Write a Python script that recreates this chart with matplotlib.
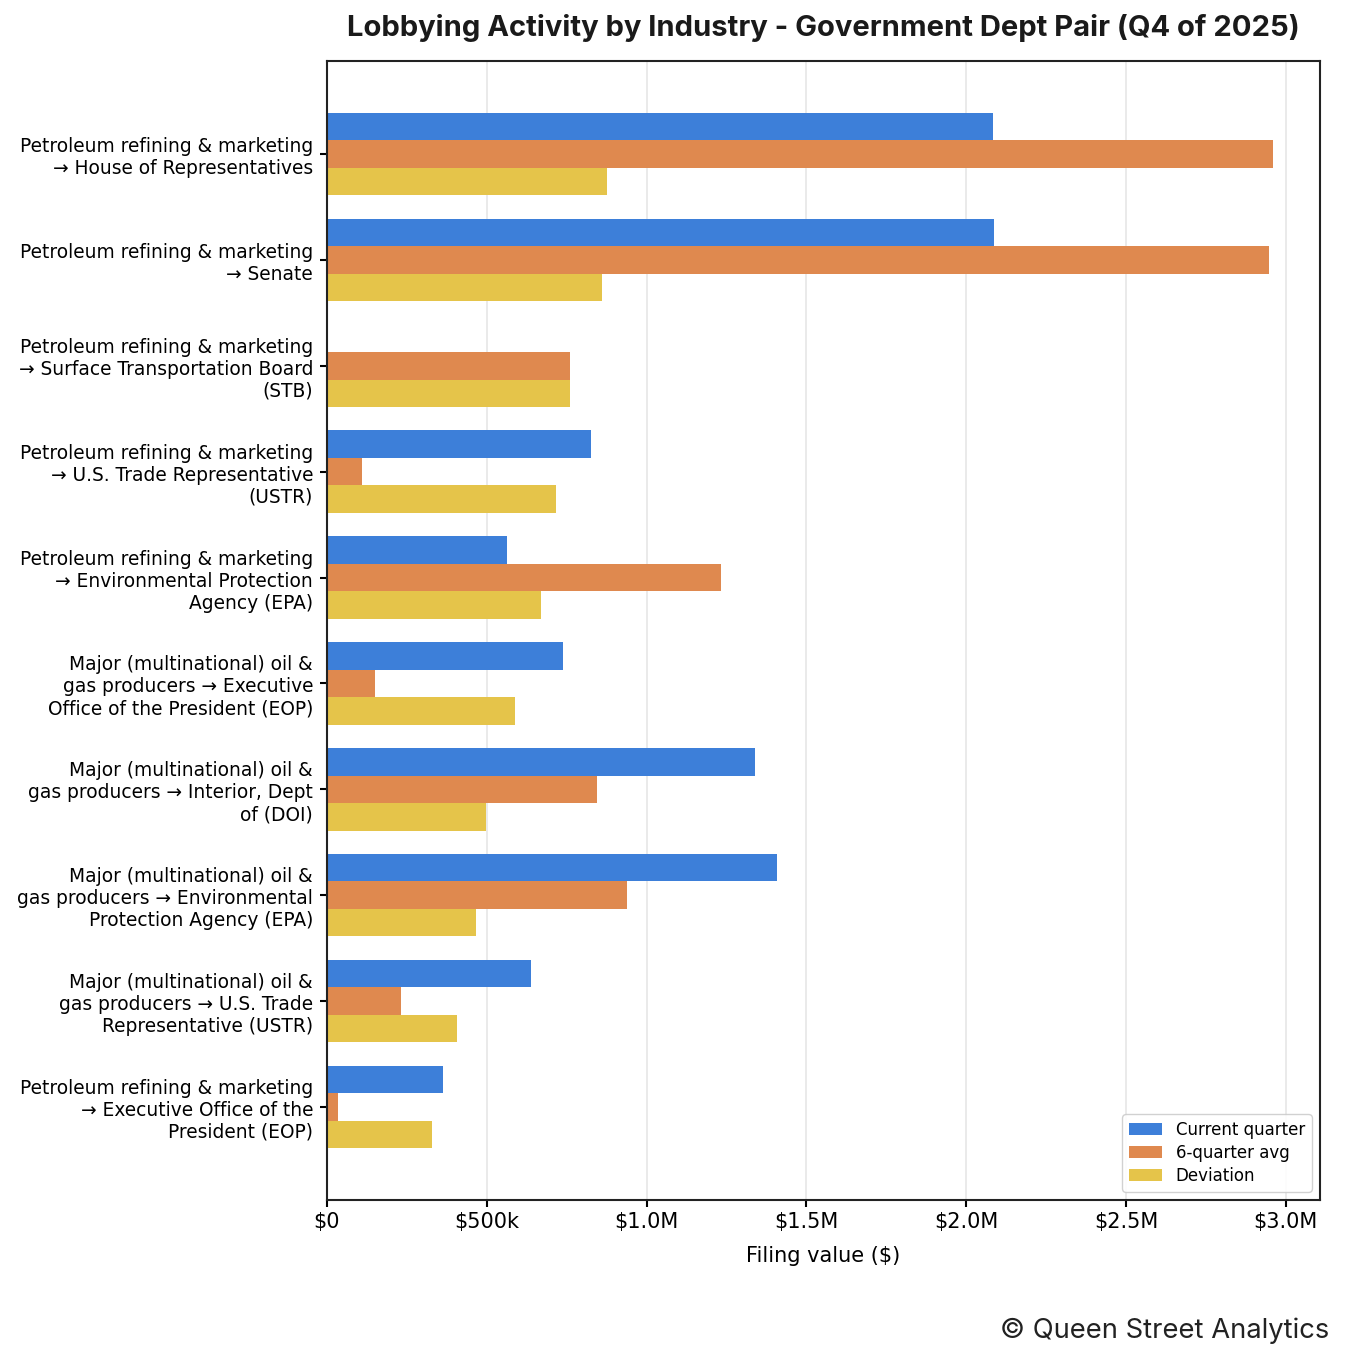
#!/usr/bin/env python3
# lobbying activity by industry / government dept pair, grouped horizontal bars
import numpy as np
import matplotlib
matplotlib.use('Agg')
import matplotlib.pyplot as plt
from matplotlib.ticker import FuncFormatter

pairs = [
    'Petroleum refining & marketing\n\u2192 House of Representatives',
    'Petroleum refining & marketing\n\u2192 Senate',
    'Petroleum refining & marketing\n\u2192 Surface Transportation Board\n(STB)',
    'Petroleum refining & marketing\n\u2192 U.S. Trade Representative\n(USTR)',
    'Petroleum refining & marketing\n\u2192 Environmental Protection\nAgency (EPA)',
    'Major (multinational) oil &\ngas producers \u2192 Executive\nOffice of the President (EOP)',
    'Major (multinational) oil &\ngas producers \u2192 Interior, Dept\nof (DOI)',
    'Major (multinational) oil &\ngas producers \u2192 Environmental\nProtection Agency (EPA)',
    'Major (multinational) oil &\ngas producers \u2192 U.S. Trade\nRepresentative (USTR)',
    'Petroleum refining & marketing\n\u2192 Executive Office of the\nPresident (EOP)',
]
current_q = [2.083e6, 2.086e6, 0.0, 0.826e6, 0.563e6, 0.738e6, 1.339e6, 1.408e6, 0.638e6, 0.363e6]
avg_6q = [2.959e6, 2.946e6, 0.760e6, 0.109e6, 1.232e6, 0.150e6, 0.845e6, 0.938e6, 0.231e6, 0.034e6]
deviation = [0.876e6, 0.860e6, 0.760e6, 0.716e6, 0.669e6, 0.588e6, 0.497e6, 0.466e6, 0.407e6, 0.328e6]

series = [('Current quarter', current_q, '#3d7fd9'),
          ('6-quarter avg', avg_6q, '#df894f'),
          ('Deviation', deviation, '#e5c44a')]


def money(v, pos):
    if v == 0:
        return '$0'
    if v >= 1e6:
        return '${:.1f}M'.format(v / 1e6)
    return '${:.0f}k'.format(v / 1e3)


fig = plt.figure(figsize=(13.45, 13.59), dpi=100)
ax = fig.add_axes([0.2431, 0.1170, 0.7383, 0.8381])

y = np.arange(len(pairs))
h = 0.26
for i, (name, vals, col) in enumerate(series):
    ax.barh(y + (i - 1) * h, vals, height=h, color=col, label=name, zorder=2)

ax.set_yticks(y)
ax.set_yticklabels(pairs, fontsize=13.4)
ax.invert_yaxis()
ax.xaxis.set_major_formatter(FuncFormatter(money))
ax.tick_params(axis='x', labelsize=15, width=1.5, length=5)
ax.tick_params(axis='y', width=1.5, length=5, pad=5)
ax.grid(axis='x', color='#e6e6e6', linewidth=1.2, zorder=0)
ax.set_axisbelow(True)
for s in ax.spines.values():
    s.set_linewidth(1.5)
    s.set_color('#222222')
ax.set_xlabel('Filing value ($)', fontsize=15, labelpad=10)

ax.legend(loc='lower right', fontsize=12, framealpha=0.9, borderpad=0.4,
          handlelength=2.0, labelspacing=0.3)

ax.set_title('Lobbying Activity by Industry - Government Dept Pair (Q4 of 2025)',
             family=['Inter', 'DejaVu Sans'], fontweight='bold', fontsize=21,
             color='#1a1a1a', pad=18)

fig.text(0.988, 0.021, '\u00a9 Queen Street Analytics', ha='right', va='center',
         family=['Inter', 'DejaVu Sans'], fontsize=19.7, color='#222222')

fig.savefig('out.png', dpi=100)
